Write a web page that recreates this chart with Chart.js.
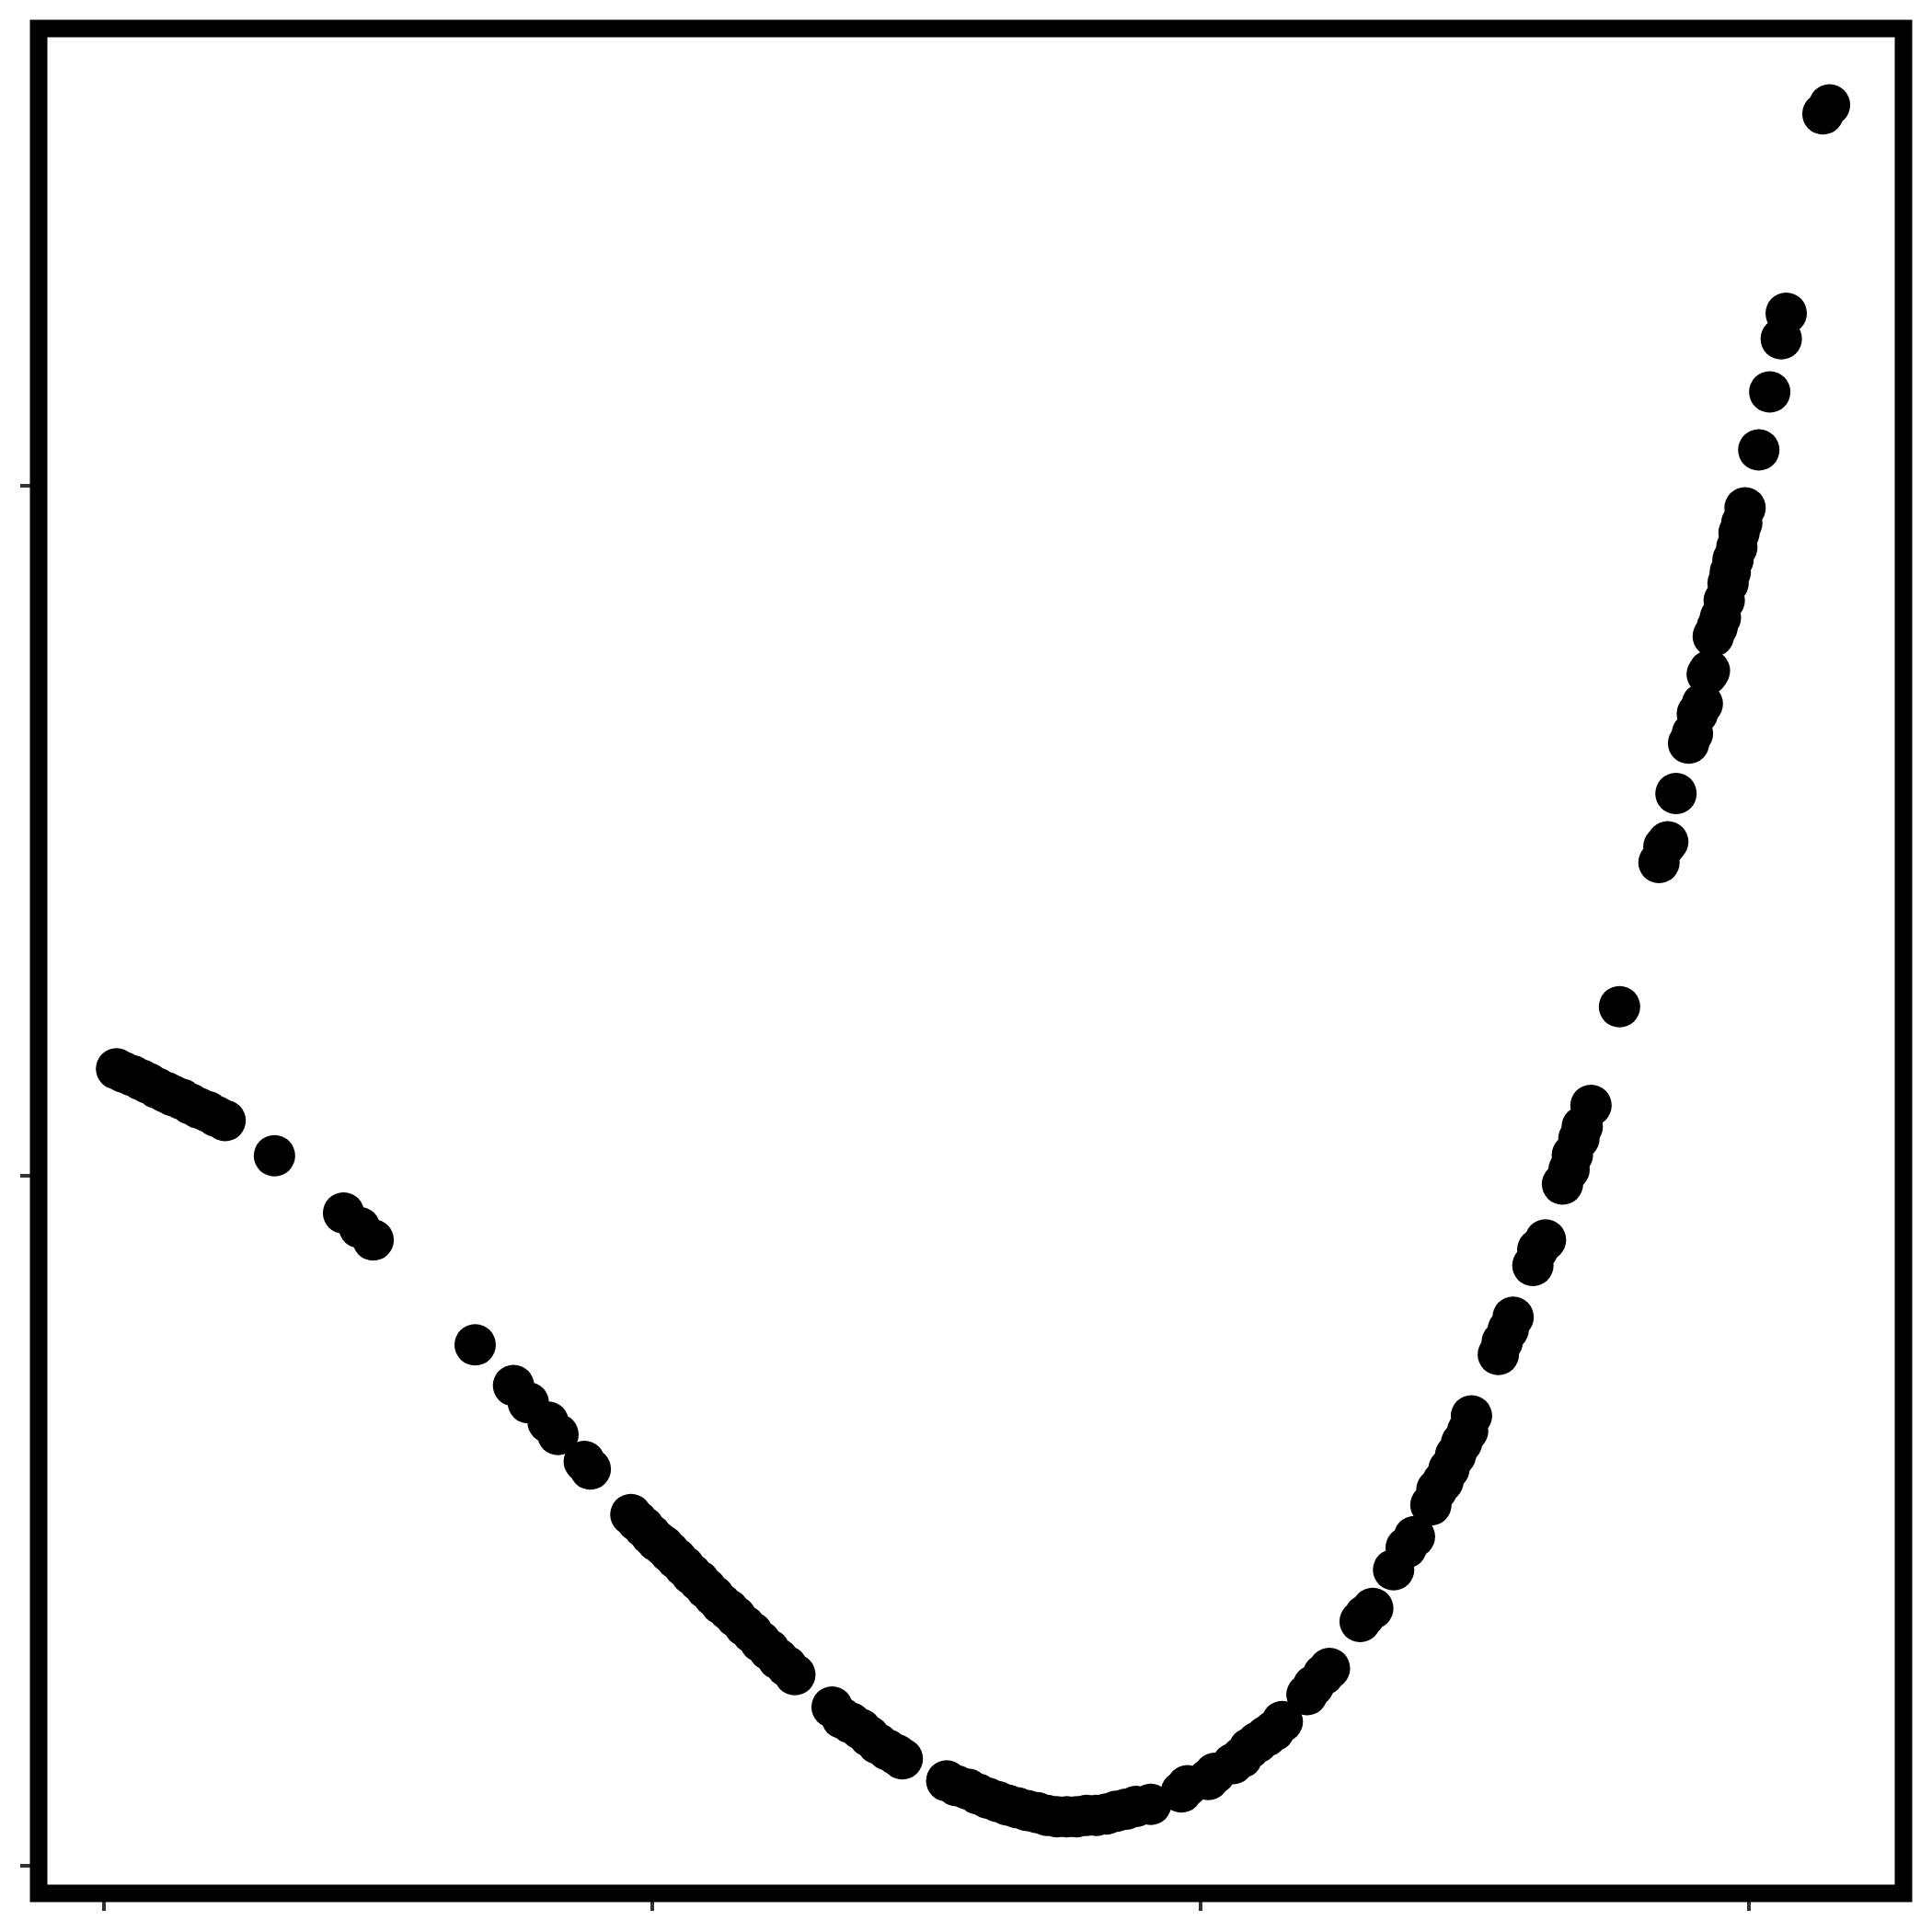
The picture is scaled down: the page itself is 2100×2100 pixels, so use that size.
<!DOCTYPE html>
<html>
<head>
<meta charset="utf-8">
<script src="https://cdn.jsdelivr.net/npm/chart.js@4/dist/chart.umd.min.js"></script>
<style>
html,body{margin:0;padding:0;background:#ffffff;}
#wrap{width:2100px;height:2100px;}
</style>
</head>
<body>
<div id="wrap"><canvas id="c" width="2100" height="2100"></canvas></div>
<script>
// ---- data ----
const xValues = [
  0.023,0.036,0.052,0.068,0.081,0.097,0.113,0.126,0.142,0.158,0.173,0.189,0.205,0.221,
  0.311,0.437,0.466,0.491,
  0.677,0.747,0.774,0.810,0.828,0.876,0.887,
  0.961,0.972,0.984,0.997,1.008,1.020,1.031,1.044,1.058,1.071,1.085,1.098,1.112,1.125,1.139,1.152,1.168,1.182,1.197,1.213,1.229,1.245,1.260,
  1.328,1.346,1.362,1.380,1.395,1.411,1.429,1.445,1.456,
  1.537,1.555,1.576,1.594,1.612,1.630,1.648,1.666,1.684,1.702,1.720,1.738,1.756,1.774,1.792,1.810,1.828,1.846,1.864,1.882,1.909,
  1.965,1.976,2.014,2.026,2.059,2.075,2.089,2.104,2.120,2.134,2.149,
  2.194,2.206,2.224,2.235,
  2.291,2.300,2.314,
  2.352,2.375,2.390,
  2.420,2.431,2.442,2.453,2.465,2.476,2.487,2.494,
  2.543,2.550,2.561,2.570,
  2.606,2.615,2.629,
  2.660,2.672,2.678,2.690,2.696,2.712,
  2.764,
  2.836,2.845,2.852,2.867,2.890,2.897,2.906,2.915,2.924,2.928,2.935,2.942,2.948,2.955,2.962,2.966,2.971,2.978,2.982,2.987,2.993,
  3.018,3.038,3.059,3.068,3.135,3.147
];
const yValues = [
  1.155,1.150,1.145,1.139,1.134,1.127,1.121,1.116,1.111,1.104,1.098,1.093,1.086,1.080,
  1.029,0.946,0.925,0.907,
  0.755,0.696,0.671,0.643,0.625,0.586,0.575,
  0.509,0.500,0.491,0.480,0.471,0.464,0.455,0.445,0.434,0.423,0.413,0.402,0.391,0.380,0.371,0.361,0.348,0.338,0.325,0.313,0.300,0.289,0.277,
  0.230,0.214,0.207,0.198,0.188,0.177,0.168,0.161,0.155,
  0.123,0.116,0.111,0.104,0.098,0.093,0.088,0.084,0.080,0.077,0.073,0.071,0.071,0.071,0.073,0.073,0.075,0.079,0.082,0.086,0.089,
  0.107,0.116,0.125,0.134,0.148,0.157,0.170,0.179,0.188,0.196,0.209,
  0.248,0.261,0.277,0.286,
  0.354,0.363,0.373,
  0.429,0.461,0.477,
  0.523,0.545,0.557,0.575,0.595,0.613,0.630,0.652,
  0.741,0.759,0.777,0.795,
  0.870,0.893,0.907,
  0.988,1.009,1.030,1.054,1.071,1.102,
  1.245,
  1.454,1.477,1.484,1.554,1.627,1.641,1.670,1.684,1.727,1.732,1.782,1.795,1.809,1.834,1.859,1.875,1.893,1.911,1.932,1.946,1.968,
  2.052,2.136,2.213,2.250,2.539,2.552
];
const xTicks = [0, 1, 2, 3];
const yTicks = [0, 1, 2];
const xRange = [-0.1191, 3.2819];
const yRange = [-0.04, 2.6627];

const points = xValues.map((x, i) => ({x: x, y: yValues[i]}));

const framePlugin = {
  id: 'frame',
  afterDraw(chart) {
    const ctx = chart.ctx;
    const a = chart.chartArea;
    const xs = chart.scales.x, ys = chart.scales.y;
    ctx.save();
    // tick marks
    ctx.strokeStyle = '#333333';
    ctx.lineWidth = 4;
    ctx.beginPath();
    xTicks.forEach(t => {
      const px = Math.round(xs.getPixelForValue(t));
      ctx.moveTo(px, a.bottom + 7);
      ctx.lineTo(px, a.bottom + 19);
    });
    yTicks.forEach(t => {
      const py = Math.round(ys.getPixelForValue(t));
      ctx.moveTo(a.left - 20, py);
      ctx.lineTo(a.left - 8, py);
    });
    ctx.stroke();
    // panel border
    ctx.strokeStyle = '#000000';
    ctx.lineWidth = 19;
    ctx.strokeRect(a.left, a.top, a.right - a.left, a.bottom - a.top);
    ctx.restore();
  }
};

new Chart(document.getElementById('c'), {
  type: 'scatter',
  data: {
    datasets: [{
      data: points,
      backgroundColor: '#000000',
      borderWidth: 0,
      pointRadius: 22.5,
      pointHoverRadius: 22.5,
      clip: false
    }]
  },
  options: {
    responsive: false,
    animation: false,
    events: [],
    layout: { padding: { left: 42, top: 31, right: 31, bottom: 42 } },
    plugins: { legend: { display: false }, tooltip: { enabled: false } },
    scales: {
      x: { type: 'linear', min: xRange[0], max: xRange[1], display: false },
      y: { type: 'linear', min: yRange[0], max: yRange[1], display: false }
    }
  },
  plugins: [framePlugin]
});
</script>
</body>
</html>
